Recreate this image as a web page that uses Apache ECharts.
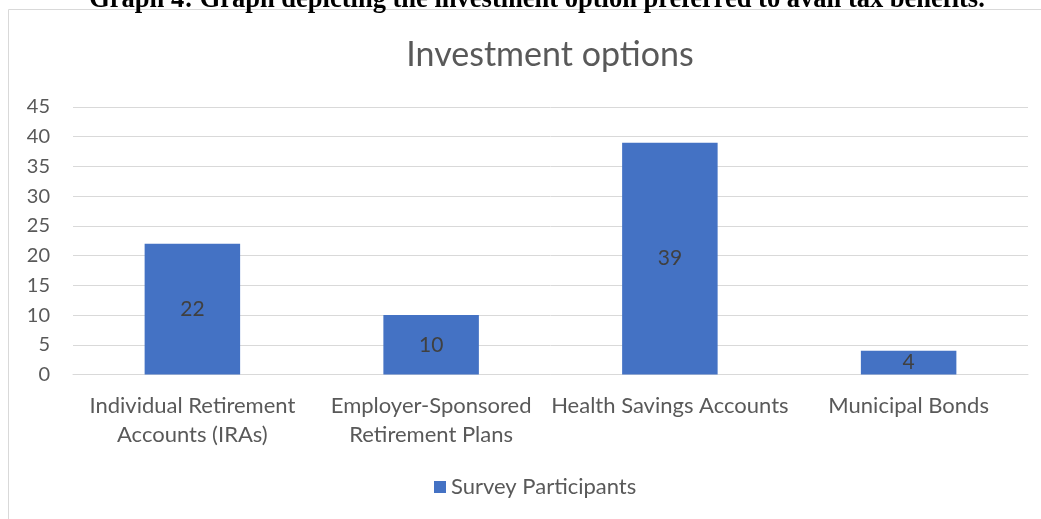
<!DOCTYPE html>
<html><head><meta charset="utf-8">
<script src="https://cdn.jsdelivr.net/npm/echarts@6/dist/echarts.min.js"></script>
<style>html,body{margin:0;padding:0;background:#fff}#c{width:1041px;height:519px}</style>
</head><body><div id="c"></div>
<script>
const categories = ['Individual Retirement\nAccounts (IRAs)', 'Employer-Sponsored\nRetirement Plans', 'Health Savings Accounts', 'Municipal Bonds'];
const surveyParticipants = [22, 10, 39, 4];
const seriesName = 'Survey Participants';
const chartTitle = 'Investment options';
const caption = 'Graph 4: Graph depicting the investment option preferred to avail tax benefits.';

const font = 'Lato, "Open Sans", sans-serif';
const chart = echarts.init(document.getElementById('c'));
chart.setOption({
  animation: false,
  graphic: [
    {type: 'rect', shape: {x: 8.5, y: 9.5, width: 1060, height: 540}, style: {fill: 'none', stroke: '#d9d9d9', lineWidth: 1}, silent: true},
    {type: 'text', style: {x: 537, y: -13, text: caption, align: 'center', verticalAlign: 'top', font: 'bold 26.5px "Liberation Serif", serif', fill: '#000'}}
  ],
  title: {text: chartTitle, left: 545, textAlign: 'center', top: 33,
    textStyle: {fontFamily: font, fontSize: 34, fontWeight: 'normal', color: '#595959'}},
  legend: {bottom: 16, left: 429, itemWidth: 12, itemHeight: 12, icon: 'rect', itemGap: 8,
    textStyle: {fontFamily: font, fontSize: 22, color: '#595959'}},
  grid: {left: 73, right: 13, top: 107, bottom: 144.5, containLabel: false},
  xAxis: {type: 'category', data: categories,
    axisLine: {lineStyle: {color: '#d9d9d9'}}, axisTick: {show: false},
    axisLabel: {fontFamily: font, fontSize: 22, color: '#595959', lineHeight: 29, margin: 17, interval: 0}},
  yAxis: {type: 'value', min: 0, max: 45, interval: 5,
    axisLine: {show: false}, axisTick: {show: false},
    splitLine: {lineStyle: {color: '#d9d9d9', width: 1}},
    axisLabel: {fontFamily: font, fontSize: 20, color: '#595959', margin: 23}},
  series: [{name: seriesName, type: 'bar', data: surveyParticipants, barWidth: '40%',
    itemStyle: {color: '#4472c4'},
    label: {show: true, position: 'inside', fontFamily: font, fontSize: 21, color: '#404040'}}]
});
</script></body></html>
